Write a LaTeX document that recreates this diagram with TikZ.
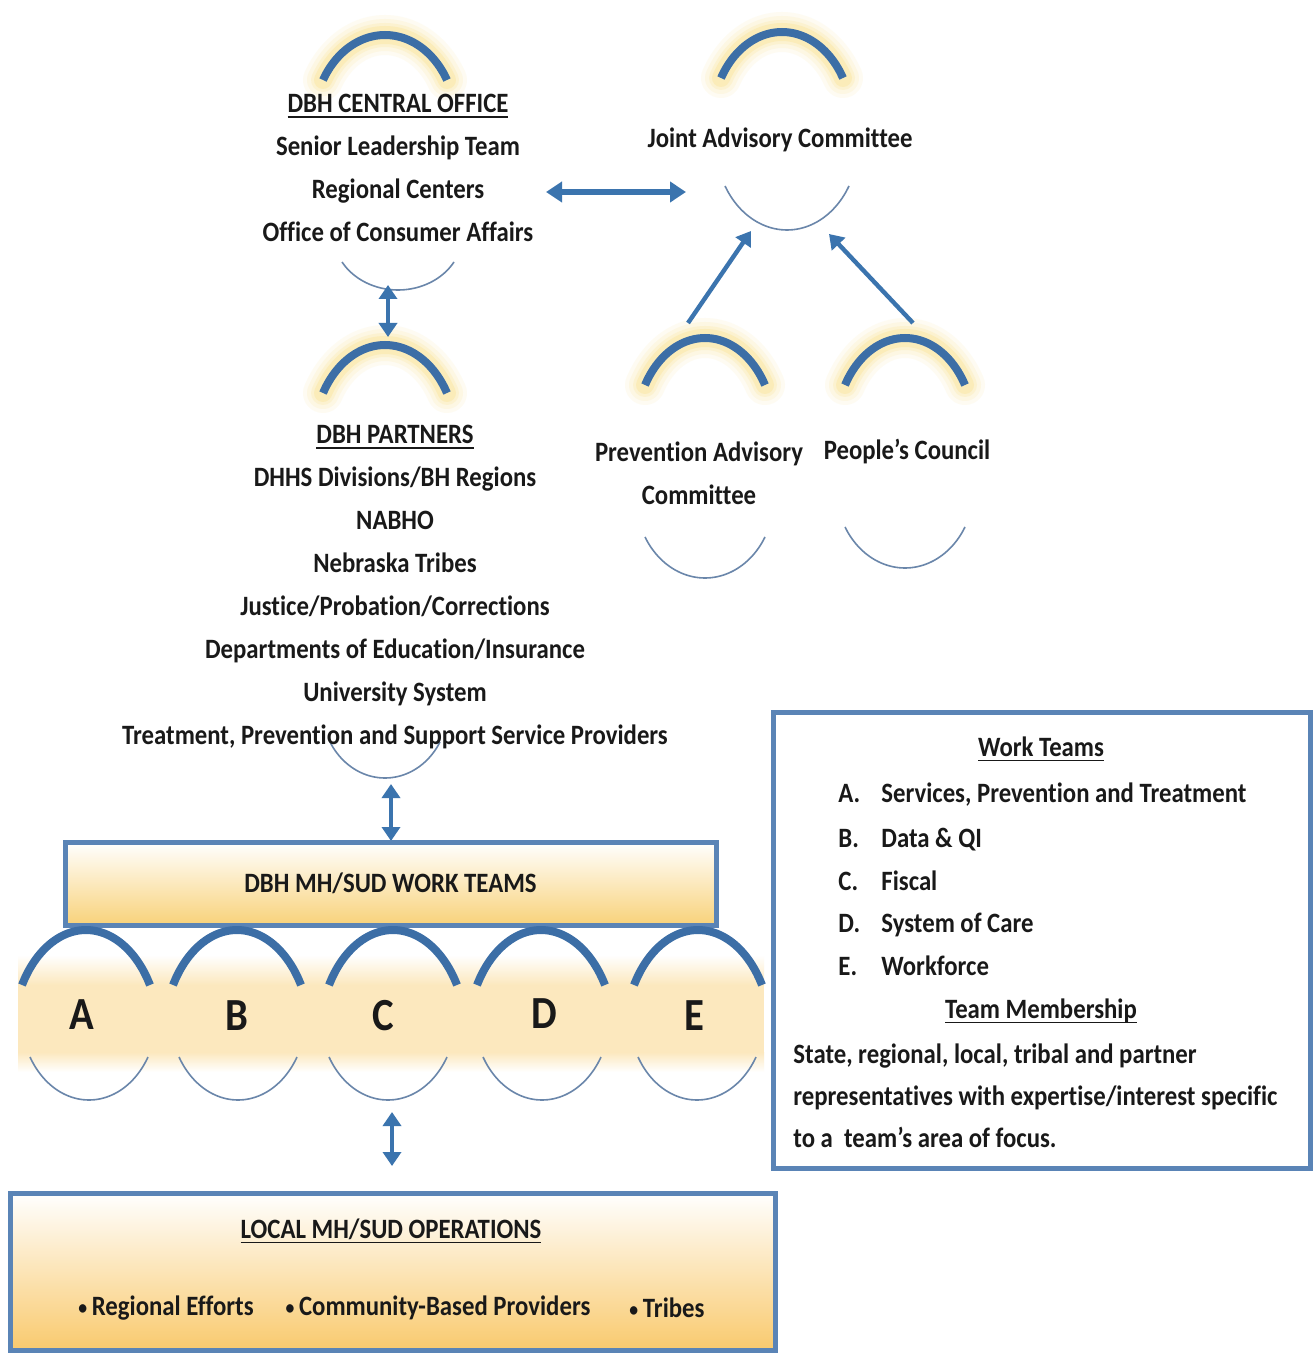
\documentclass[tikz,border=0pt]{standalone}
\usepackage{fontspec}
\setmainfont{Carlito}[FakeStretch=0.885,Ligatures=NoCommon]
\usetikzlibrary{arrows.meta}
\definecolor{arcblue}{HTML}{3C6EA6}
\definecolor{thinarc}{HTML}{6A86AA}
\definecolor{boxblue}{HTML}{5A84B6}
\definecolor{arrowblue}{HTML}{3B74AE}
\definecolor{glow}{HTML}{F8D254}
\definecolor{fillyellow}{HTML}{F8D27A}
\definecolor{bandyellow}{HTML}{FCE8BE}
\newcommand\myul[1]{\leavevmode\setbox0\hbox{#1}\rlap{\rule[-2.6pt]{\wd0}{0.9pt}}\box0}
\newcommand\smallbullet{\raisebox{0.5pt}{\fontsize{10}{10}\selectfont•}\,}
% arc path helper: cx, cy, rx, ry, domain
\newcommand\arcpath[5]{plot[smooth,samples=25,domain=#5] ({#1+#3*cos(\x)},{#2+#4*sin(\x)})}
% top arc with glow: cx, top y, half width, drop
\newcommand\toparc[4]{%
  \pgfmathsetmacro\arx{#3/0.866}\pgfmathsetmacro\ary{2*#4}\pgfmathsetmacro\acy{#2+\ary}%
  \foreach \lw/\op in {20pt/0.07,16pt/0.09,12pt/0.13,9pt/0.18}{%
    \draw[glow,line width=\lw,opacity=\op,line cap=round] \arcpath{#1}{\acy}{\arx}{\ary}{210:330};}
  \draw[arcblue,line width=4pt] \arcpath{#1}{\acy}{\arx}{\ary}{210:330};
}
% top arc without glow
\newcommand\toparcplain[4]{%
  \pgfmathsetmacro\arx{#3/0.866}\pgfmathsetmacro\ary{2*#4}\pgfmathsetmacro\acy{#2+\ary}%
  \draw[arcblue,line width=4pt] \arcpath{#1}{\acy}{\arx}{\ary}{210:330};
}
% bottom arc: cx, bottom y, half width, drop
\newcommand\botarc[4]{%
  \pgfmathsetmacro\arx{#3/0.866}\pgfmathsetmacro\ary{2*#4}\pgfmathsetmacro\acy{#2-\ary}%
  \draw[thinarc,line width=0.8pt] \arcpath{#1}{\acy}{\arx}{\ary}{30:150};
}
\tikzset{
  txt/.style={font=\fontsize{14}{21.5}\selectfont\bfseries, inner sep=0pt, align=center, text=black!90},
  big/.style={font=\fontsize{23}{26}\selectfont\bfseries, inner sep=0pt, text=black!90},
  dbl/.style={draw=arrowblue, line width=2.2pt, {Triangle[width=9pt,length=7pt]}-{Triangle[width=9pt,length=7pt]}},
  dblh/.style={draw=arrowblue, line width=2.6pt, {Triangle[width=10pt,length=8pt]}-{Triangle[width=10pt,length=8pt]}},
  sgl/.style={draw=arrowblue, line width=2.2pt, -{Triangle[width=9pt,length=7pt]}},
  bluebox/.style={draw=boxblue, line width=2.5pt, inner sep=0pt},
}
\begin{document}
\begin{tikzpicture}[x=0.5pt,y=-0.5pt]
\useasboundingbox (0,0) rectangle (1312,1353);
\fill[white] (0,0) rectangle (1312,1353);

% ---------- arcs ----------
\toparc{385}{35}{62}{45}
\botarc{398}{290}{56}{28}
\toparc{782}{32}{61}{46}
\botarc{787}{230}{62}{44}
\toparc{705}{338}{60}{47}
\botarc{705}{578}{60}{41}
\toparc{905}{338}{60}{47}
\botarc{905}{568}{60}{41}
\toparc{385}{345}{62}{48}
\botarc{385}{778}{55}{36}

% ---------- text groups ----------
\node[txt] (co) at (398,168) {\myul{DBH CENTRAL OFFICE}\\Senior Leadership Team\\Regional Centers\\Office of Consumer Affairs};
\node[txt] (jac) at (780,140) {Joint Advisory Committee};
\node[txt] (pac) at (699,473) {Prevention Advisory\\Committee};
\node[txt] (pc) at (907,452) {People’s Council};
\node[txt] (pa) at (395,587.5) {\myul{DBH PARTNERS}\\DHHS Divisions/BH Regions\\NABHO\\Nebraska Tribes\\Justice/Probation/Corrections\\Departments of Education/Insurance\\University System\\Treatment, Prevention and Support Service Providers};

% ---------- connectors ----------
\coordinate (h1) at (546,192);
\coordinate (h2) at (686,192);
\draw[dblh] (h1) -- (h2);
\coordinate (v1a) at (388,285);
\coordinate (v1b) at (388,337);
\draw[dbl] (v1a) -- (v1b);
\coordinate (pacT) at (688,323);
\coordinate (jacL) at (751,231);
\draw[sgl] (pacT) -- (jacL);
\coordinate (pcT) at (913,323);
\coordinate (jacR) at (829,234);
\draw[sgl] (pcT) -- (jacR);
\coordinate (v2a) at (391,784);
\coordinate (v2b) at (391,841);
\draw[dbl] (v2a) -- (v2b);
\coordinate (v3a) at (392,1112);
\coordinate (v3b) at (392,1166);
\draw[dbl] (v3a) -- (v3b);

% ---------- work teams band ----------
\shade[top color=white, bottom color=bandyellow] (18,955) rectangle (764,985);
\fill[bandyellow] (18,984.5) rectangle (764,1052.5);
\shade[top color=bandyellow, bottom color=white] (18,1052) rectangle (764,1072);
\node[bluebox, top color=white, bottom color=fillyellow, minimum width=325.5pt, minimum height=41.5pt] (wt) at (390.5,883.5) {};
\node[txt] at (wt.center) {DBH MH/SUD WORK TEAMS};
\foreach \cx/\bx in {86/89,237/238,393/388,541/542,698/697}{
  \toparcplain{\cx}{930}{64}{55}
  \botarc{\bx}{1100}{59}{43}
}
\node[big] (tA) at (82,1015) {A};
\node[big] (tB) at (237,1016) {B};
\node[big] (tC) at (383,1016) {C};
\node[big] (tD) at (544,1014) {D};
\node[big] (tE) at (694,1016) {E};

% ---------- local operations ----------
\node[bluebox, top color=white, bottom color=fillyellow!90!orange, minimum width=382.5pt, minimum height=78.5pt] (lo) at (392.5,1271.5) {};
\node[txt] (lot) at (391,1231) {\myul{LOCAL MH/SUD OPERATIONS}};
\node[txt] (b1) at (166,1308) {\smallbullet Regional Efforts};
\node[txt] (b2) at (438,1308) {\smallbullet Community-Based Providers};
\node[txt] (b3) at (667,1308) {\smallbullet Tribes};

% ---------- work teams legend ----------
\node[bluebox, fill=white, minimum width=268.5pt, minimum height=228pt] (leg) at (1041.5,940) {};
\node[txt] (wtt) at (1041,749) {\myul{Work Teams}};
\foreach \yb/\l/\t in {802/A./{Services, Prevention and Treatment},847/B./{Data \& QI},890/C./Fiscal,932/D./{System of Care},975/E./Workforce}{
  \node[txt, anchor=base west] at (838,\yb) {\l};
  \node[txt, anchor=base west] at (881,\yb) {\t};
}
\node[txt] (tm) at (1041,1011) {\myul{Team Membership}};
\node[txt, anchor=base west] (p1) at (793,1063) {State, regional, local, tribal and partner};
\node[txt, anchor=base west] (p2) at (793,1105) {representatives with expertise/interest specific};
\node[txt, anchor=base west] (p3) at (793,1147) {to a\ \ team’s area of focus.};
\end{tikzpicture}
\end{document}
